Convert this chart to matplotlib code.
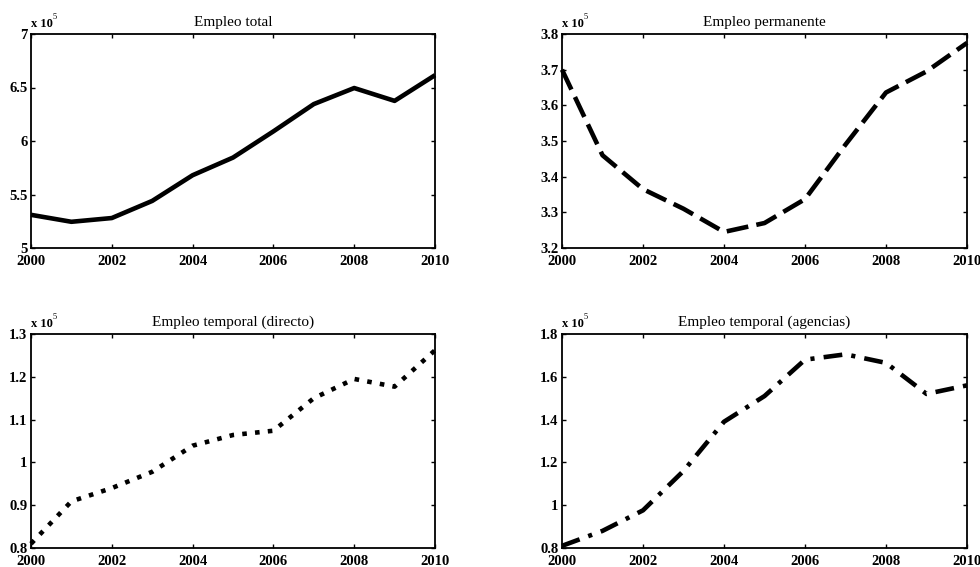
import matplotlib
matplotlib.use("Agg")
import matplotlib.pyplot as plt
import numpy as np

years = [2000, 2001, 2002, 2003, 2004, 2005, 2006, 2007, 2008, 2009, 2010]

# values in units of 10^5
empleo_total = [5.31, 5.245, 5.28, 5.44, 5.68, 5.845, 6.09, 6.345, 6.495, 6.375, 6.615]
empleo_permanente = [3.70, 3.46, 3.365, 3.31, 3.245, 3.27, 3.337, 3.49, 3.636, 3.695, 3.775]
empleo_temp_directo = [0.81, 0.909, 0.940, 0.978, 1.039, 1.064, 1.074, 1.150, 1.195, 1.177, 1.262]
empleo_temp_agencias = [0.81, 0.88, 0.976, 1.16, 1.39, 1.51, 1.68, 1.705, 1.665, 1.52, 1.56]

titles = ["Empleo total", "Empleo permanente",
          "Empleo temporal (directo)", "Empleo temporal (agencias)"]

xticks = [2000, 2002, 2004, 2006, 2008, 2010]
xtick_labels = ["2000", "2002", "2004", "2006", "2008", "2010"]

yticks_total = [5, 5.5, 6, 6.5, 7]
ylabels_total = ["5", "5.5", "6", "6.5", "7"]
yticks_perm = [3.2, 3.3, 3.4, 3.5, 3.6, 3.7, 3.8]
ylabels_perm = ["3.2", "3.3", "3.4", "3.5", "3.6", "3.7", "3.8"]
yticks_dir = [0.8, 0.9, 1.0, 1.1, 1.2, 1.3]
ylabels_dir = ["0.8", "0.9", "1", "1.1", "1.2", "1.3"]
yticks_age = [0.8, 1.0, 1.2, 1.4, 1.6, 1.8]
ylabels_age = ["0.8", "1", "1.2", "1.4", "1.6", "1.8"]

scale_label = "x 10"
scale_exp = "5"

serif = ["Liberation Serif", "DejaVu Serif"]
plt.rcParams['font.family'] = serif

W, H = 980, 567
fig = plt.figure(figsize=(W / 100, H / 100), dpi=100)

def px_axes(left, top, right, bottom):
    return fig.add_axes([left / W, 1 - bottom / H, (right - left) / W, (bottom - top) / H])

lw = 3.3
panels = [
    (px_axes(31, 34, 435, 248), empleo_total, (5, 7), yticks_total, ylabels_total, '-'),
    (px_axes(562, 34, 967, 248), empleo_permanente, (3.2, 3.8), yticks_perm, ylabels_perm, (0, (4.8, 1.8))),
    (px_axes(31, 334, 435, 548), empleo_temp_directo, (0.8, 1.3), yticks_dir, ylabels_dir, (0, (1, 1.8))),
    (px_axes(562, 334, 967, 548), empleo_temp_agencias, (0.8, 1.8), yticks_age, ylabels_age, (0, (4.1, 2.0, 0.9, 2.0))),
]

for (ax, vals, ylim, yt, yl, ls), title in zip(panels, titles):
    ax.plot(years, vals, color='black', lw=lw, linestyle=ls,
            dash_capstyle='butt', solid_capstyle='butt', clip_on=False)
    ax.set_xlim(2000, 2010)
    ax.set_ylim(*ylim)
    ax.set_xticks(xticks)
    ax.set_xticklabels(xtick_labels, fontweight='bold', fontsize=10.5)
    ax.set_yticks(yt)
    ax.set_yticklabels(yl, fontweight='bold', fontsize=10.5)
    ax.tick_params(axis='both', direction='in', top=True, right=True,
                   length=3, width=1.0)
    ax.tick_params(axis='x', pad=5)
    ax.tick_params(axis='y', pad=2.5)
    for s in ax.spines.values():
        s.set_linewidth(1.3)
    ax.set_title(title, fontsize=11, pad=6)
    ax.text(0.0, 1.02, scale_label, transform=ax.transAxes, ha='left', va='bottom',
            fontsize=9, fontweight='bold')
    ax.annotate(scale_exp, xy=(0.0, 1.02), xycoords='axes fraction',
                xytext=(15.5, 6), textcoords='offset points',
                ha='left', va='bottom', fontsize=6)

fig.savefig("out.png", dpi=100)
